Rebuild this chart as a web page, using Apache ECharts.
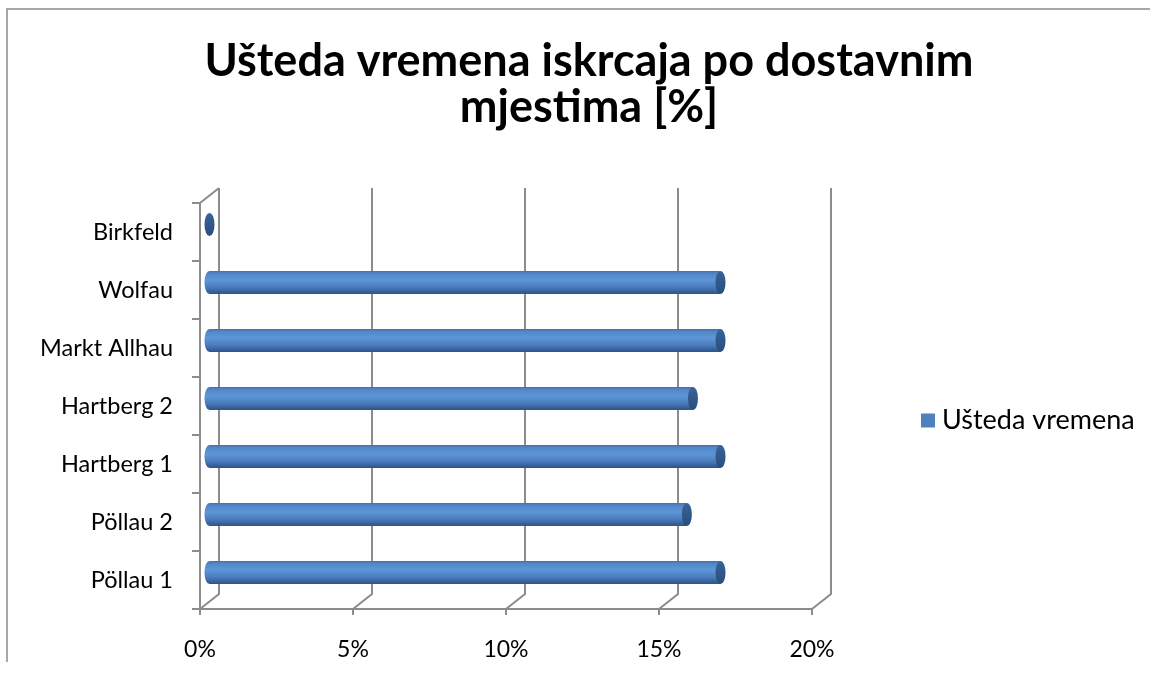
<!DOCTYPE html>
<html>
<head>
<meta charset="utf-8">
<script src="https://cdn.jsdelivr.net/npm/echarts@6/dist/echarts.min.js"></script>
<style>
  html, body { margin: 0; padding: 0; background: #fff; }
  #chart { width: 1150px; height: 675px; }
</style>
</head>
<body>
<div id="chart"></div>
<script>
// kategorije odozdo prema gore
var categories = ['Pöllau 1', 'Pöllau 2', 'Hartberg 1', 'Hartberg 2', 'Markt Allhau', 'Wolfau', 'Birkfeld'];
var savings = [0.167, 0.156, 0.167, 0.158, 0.167, 0.167, 0];
var ticks = [0, 0.05, 0.10, 0.15, 0.20];

var FONT = 'Lato, "Open Sans", sans-serif';
var DX = 19, DY = -15; // dubina 3D zida

var chart = echarts.init(document.getElementById('chart'));

function frameItem(params, api) {
  var cs = params.coordSys;
  var v = api.value(0);
  var x = api.coord([v, 0])[0];
  var bottom = cs.y + cs.height, top = cs.y;
  var style = { stroke: '#8c8c8c', lineWidth: 2, fill: null };
  var pts = [[x, bottom], [x + DX, bottom + DY], [x + DX, top + DY]];
  var children = [{ type: 'polyline', shape: { points: pts }, style: style }];
  if (v === 0) {
    children.push({ type: 'line', shape: { x1: x, y1: top, x2: x + DX, y2: top + DY }, style: style });
  }
  return { type: 'group', children: children };
}

function barItem(params, api) {
  var i = api.value(1);
  var s = api.coord([0, i]);
  var e = api.coord([api.value(0), i]);
  var band = api.size([0, 1])[1];
  var h = band * 0.4;
  var ox = DX / 2, oy = DY / 2;
  var x0 = s[0] + ox, x1 = e[0] + ox, cy = s[1] + oy;
  var ry = h / 2, rx = 5;
  var body = {
    type: 'linear', x: 0, y: 0, x2: 0, y2: 1,
    colorStops: [
      { offset: 0, color: '#456fa6' },
      { offset: 0.12, color: '#5288ca' },
      { offset: 0.4, color: '#5d96d8' },
      { offset: 0.7, color: '#4a7cbc' },
      { offset: 1, color: '#2d5287' }
    ]
  };
  var cap = {
    type: 'linear', x: 0, y: 0, x2: 0, y2: 1,
    colorStops: [
      { offset: 0, color: '#3a6398' },
      { offset: 1, color: '#2a4d7e' }
    ]
  };
  var children = [];
  if (x1 - x0 > 0.5) {
    children.push({ type: 'circle', x: x0, y: cy, scaleX: rx / ry, shape: { cx: 0, cy: 0, r: ry }, style: { fill: body } });
    children.push({ type: 'rect', shape: { x: x0, y: cy - ry, width: x1 - x0, height: h }, style: { fill: body } });
  }
  children.push({ type: 'circle', x: x1, y: cy, scaleX: rx / ry, shape: { cx: 0, cy: 0, r: ry }, style: { fill: cap } });
  return { type: 'group', children: children };
}

var option = {
  backgroundColor: '#fff',
  animation: false,
  title: {
    text: 'Ušteda vremena iskrcaja po dostavnim\nmjestima [%]',
    left: 584, textAlign: 'center', top: 33,
    textStyle: { fontFamily: FONT, fontWeight: 'bold', fontSize: 45, lineHeight: 46, color: '#000' }
  },
  legend: {
    data: ['Ušteda vremena'],
    left: 916, top: 402,
    icon: 'rect', itemWidth: 14, itemHeight: 14, itemGap: 6,
    textStyle: { fontFamily: FONT, fontSize: 27, color: '#000', padding: [0, 0, 0, 2] }
  },
  grid: { left: 200, right: 338, top: 203, bottom: 66, containLabel: false },
  xAxis: {
    type: 'value', min: 0, max: 0.2, interval: 0.05,
    axisLine: { show: true, lineStyle: { color: '#8c8c8c', width: 2 } },
    axisTick: { show: true, length: 6, lineStyle: { color: '#8c8c8c', width: 2 } },
    splitLine: { show: false },
    axisLabel: {
      margin: 29, fontFamily: FONT, fontSize: 23, color: '#000',
      formatter: function (v) { return Math.round(v * 100) + '%'; }
    }
  },
  yAxis: {
    type: 'category', data: categories,
    axisLine: { show: true, lineStyle: { color: '#8c8c8c', width: 2 } },
    axisTick: { show: true, length: 8, lineStyle: { color: '#8c8c8c', width: 2 } },
    axisLabel: { margin: 27, fontFamily: FONT, fontSize: 23.5, color: '#000' }
  },
  series: [
    {
      name: 'okvir', type: 'custom', renderItem: frameItem, silent: true,
      data: ticks.map(function (t) { return [t]; }), encode: { x: 0 }, z: 1
    },
    {
      name: 'Ušteda vremena', type: 'custom', renderItem: barItem,
      itemStyle: { color: '#4f81bd' },
      data: savings.map(function (v, i) { return [v, i]; }),
      encode: { x: 0, y: 1 }, z: 3
    }
  ],
  graphic: [{
    type: 'polyline', silent: true,
    shape: { points: [[1150, 9], [7, 9], [7, 662]] },
    style: { stroke: '#8a8a8a', lineWidth: 1.5, fill: null }
  }]
};

chart.setOption(option);
</script>
</body>
</html>
